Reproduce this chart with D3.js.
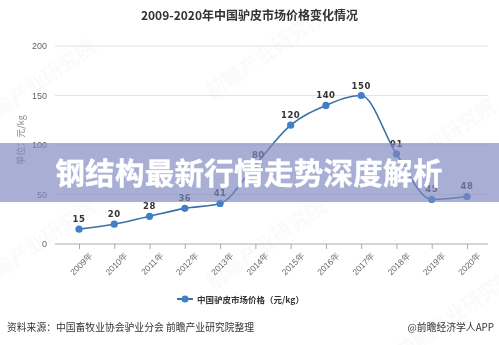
<!DOCTYPE html>
<html>
<head>
<meta charset="utf-8">
<script src="https://cdn.jsdelivr.net/npm/d3@7/dist/d3.min.js"></script>
<style>
  html, body { margin: 0; padding: 0; background: #fff; }
  svg { display: block; font-family: "Noto Sans CJK SC", "Noto Sans", sans-serif; }
</style>
</head>
<body>
<svg id="chart" width="499" height="345"></svg>
<script>
// Donkey hide market price, 2009-2020 (yuan/kg)
const years = ["2009年","2010年","2011年","2012年","2013年","2014年","2015年","2016年","2017年","2018年","2019年","2020年"];
const prices = [15, 20, 28, 36, 41, 80, 120, 140, 150, 91, 45, 48];
const yTicks = [0, 50, 100, 150, 200];

const chartTitle = "2009-2020年中国驴皮市场价格变化情况";
const yLabel = "单位：元/kg";
const legendLabel = "中国驴皮市场价格（元/kg）";
const sourceText = "资料来源：中国畜牧业协会驴业分会 前瞻产业研究院整理";
const brandText = "@前瞻经济学人APP";
const bannerText = "钢结构最新行情走势深度解析";

const svg = d3.select("#chart");
const W = 499, H = 345;
const plot = { left: 55, right: 488, top: 46, bottom: 244 };

const x = d3.scalePoint().domain(years).range([79, 467]);
const y = d3.scaleLinear().domain([0, 200]).range([plot.bottom, plot.top]);

// faint watermarks
const wm = svg.append("g").attr("fill", "#000").attr("opacity", 0.022)
  .attr("font-size", 20).attr("font-weight", "bold");
[[40, 90], [270, 60], [40, 250], [270, 250], [440, 150], [460, 320]].forEach(([wx, wy]) => {
  wm.append("text").attr("transform", `translate(${wx},${wy}) rotate(-35)`)
    .attr("text-anchor", "middle").text("前瞻产业研究院");
});

// title
svg.append("text").attr("x", W / 2).attr("y", 20).attr("text-anchor", "middle")
  .attr("font-size", 12).attr("font-weight", "bold").attr("fill", "#333").text(chartTitle);

// grid lines
svg.append("g").selectAll("line").data(yTicks.filter(d => d > 0)).join("line")
  .attr("x1", plot.left).attr("x2", plot.right)
  .attr("y1", d => y(d)).attr("y2", d => y(d))
  .attr("stroke", "#e3e3e3").attr("stroke-width", 1);

// y axis labels
const yAxis = d3.axisLeft(y).tickValues(yTicks).tickSize(0).tickPadding(8);
const gy = svg.append("g").attr("transform", `translate(${plot.left},0)`).call(yAxis);
gy.select(".domain").remove();
gy.selectAll("text").attr("font-size", 9).attr("fill", "#666")
  .attr("font-family", "'Liberation Sans', Arial, sans-serif");

// y axis title
svg.append("text").attr("transform", `translate(24,140) rotate(-90)`)
  .attr("text-anchor", "middle").attr("font-size", 9).attr("fill", "#888").text(yLabel);

// x axis
const xAxis = d3.axisBottom(x).tickSize(5).tickPadding(4);
const gx = svg.append("g").attr("transform", `translate(0,${plot.bottom})`).call(xAxis);
gx.select(".domain").attr("stroke", "#aaa").attr("d", `M${plot.left},0H${plot.right}`);
gx.selectAll(".tick line").attr("stroke", "#aaa");
gx.selectAll("text").attr("font-size", 8.5).attr("fill", "#666")
  .attr("text-anchor", "end")
  .attr("transform", "translate(4,2) rotate(-45)")
  .attr("dx", 0).attr("dy", "0.6em");

// line
const line = d3.line().x((d, i) => x(years[i])).y(d => y(d)).curve(d3.curveMonotoneX);
svg.append("path").datum(prices).attr("d", line)
  .attr("fill", "none").attr("stroke", "#3c6fa6").attr("stroke-width", 1.6);

svg.append("g").selectAll("circle").data(prices).join("circle")
  .attr("cx", (d, i) => x(years[i])).attr("cy", d => y(d)).attr("r", 3.6)
  .attr("fill", "#3f80c6");

// value labels
svg.append("g").selectAll("text").data(prices).join("text")
  .attr("x", (d, i) => x(years[i]) + (d === 80 ? 3 : 0)).attr("y", d => y(d) - 7)
  .attr("text-anchor", "middle").attr("font-size", 8.5).attr("font-weight", "bold")
  .attr("fill", "#333").attr("font-family", "'DejaVu Sans', sans-serif")
  .attr("letter-spacing", 0.5)
  .text(d => d);

// legend
const lg = svg.append("g").attr("transform", "translate(185,299)");
lg.append("line").attr("x1", -8).attr("x2", 8).attr("stroke", "#3c6fa6").attr("stroke-width", 2);
lg.append("circle").attr("r", 3.5).attr("fill", "#3f80c6");
lg.append("text").attr("x", 12).attr("y", 3.5).attr("font-size", 8.5).attr("font-weight", "bold")
  .attr("fill", "#333").text(legendLabel);

// footer
svg.append("text").attr("x", 7).attr("y", 331).attr("font-size", 9.8).attr("fill", "#333").text(sourceText);
svg.append("text").attr("x", 494).attr("y", 331).attr("text-anchor", "end")
  .attr("font-size", 9.8).attr("fill", "#333").text(brandText);

// banner overlay
svg.append("rect").attr("x", 0).attr("y", 143).attr("width", W).attr("height", 59)
  .attr("fill", "rgb(128,136,192)").attr("opacity", 0.68);
svg.append("text").attr("x", 249).attr("y", 184).attr("text-anchor", "middle")
  .attr("font-size", 29.5).attr("font-weight", "bold").attr("fill", "#fff")
  .attr("stroke", "#fff").attr("stroke-width", 0.4).attr("stroke-linejoin", "round")
  .attr("letter-spacing", 0.3)
  .text(bannerText);
</script>
</body>
</html>
